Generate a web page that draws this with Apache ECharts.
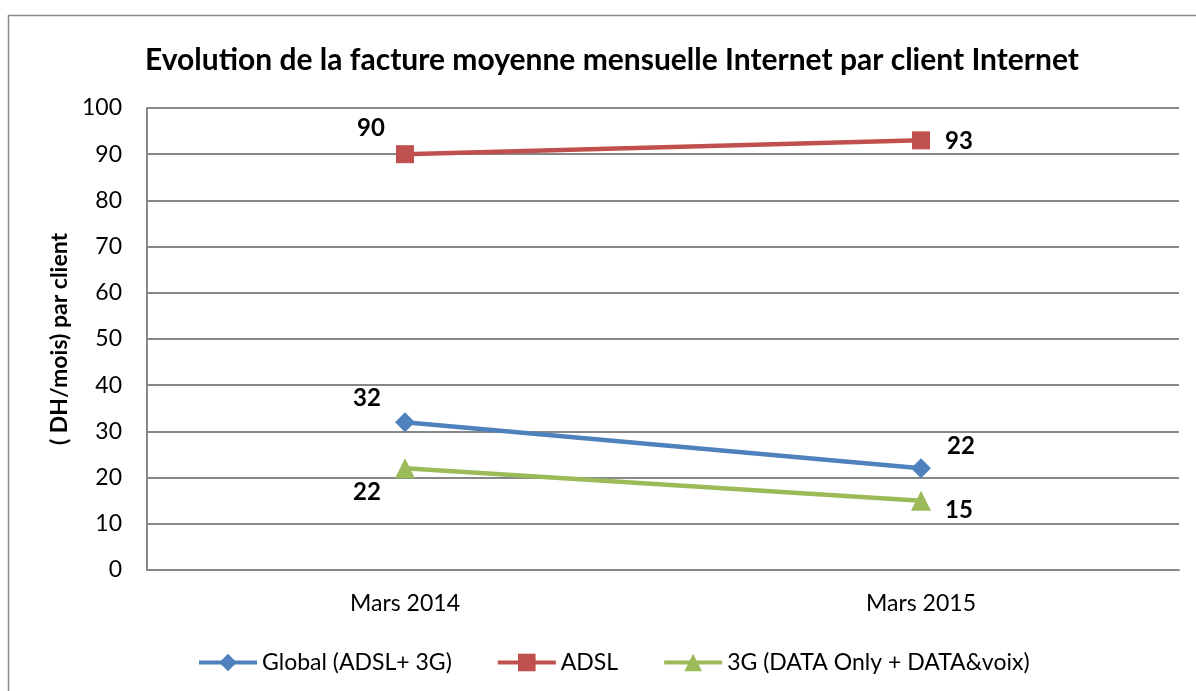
<!DOCTYPE html>
<html><head><meta charset="utf-8">
<script src="https://cdn.jsdelivr.net/npm/echarts@6/dist/echarts.min.js"></script>
<style>html,body{margin:0;padding:0;background:#fff}#c{width:1196px;height:691px}</style>
</head><body><div id="c"></div>
<script>
const categories = ['Mars 2014', 'Mars 2015'];
const globalVals = [32, 22];
const adslVals = [90, 93];
const g3Vals = [22, 15];
const yTicks = [0, 10, 20, 30, 40, 50, 60, 70, 80, 90, 100];

const FONT = 'Lato, "Open Sans", sans-serif';
const chart = echarts.init(document.getElementById('c'));
function lbl(offset){return {show:true, position:'inside', offset:offset, fontFamily:FONT, fontWeight:'bold', fontSize:24, color:'#000'};}
function mk(vals, offsets){return vals.map((v,i)=>({value:v, label:lbl(offsets[i])}));}
chart.setOption({
  animation:false,
  graphic:[{type:'rect', shape:{x:8.5,y:15.5,width:1200,height:700}, style:{fill:'none', stroke:'#8a8a8a', lineWidth:1.5}, z:-1}],
  title:{text:'Evolution de la facture moyenne mensuelle Internet par client Internet', left:607, top:40, textAlign:'center',
    textStyle:{fontFamily:FONT, fontWeight:'bold', fontSize:30, color:'#000'}},
  grid:{left:147, right:17, top:108, bottom:121, containLabel:false},
  legend:{bottom:12, left:192, itemWidth:58, itemHeight:22, itemGap:44,
    lineStyle:{width:4},
    textStyle:{fontFamily:FONT, fontSize:23, color:'#000'},
    data:['Global (ADSL+ 3G)','ADSL','3G (DATA Only + DATA&voix)']},
  xAxis:{type:'category', data:categories, boundaryGap:true,
    axisLine:{lineStyle:{color:'#878787', width:2}}, axisTick:{show:false},
    axisLabel:{fontFamily:FONT, fontSize:23, color:'#000', margin:22}},
  yAxis:{type:'value', min:yTicks[0], max:yTicks[yTicks.length-1], interval:10,
    name:'( DH/mois) par client', nameLocation:'middle', nameGap:75, nameRotate:90,
    nameTextStyle:{fontFamily:FONT, fontWeight:'bold', fontSize:23, color:'#000'},
    axisLine:{show:true, lineStyle:{color:'#878787', width:2}}, axisTick:{show:false},
    splitLine:{lineStyle:{color:'#878787', width:2}},
    axisLabel:{fontFamily:FONT, fontSize:23, color:'#000', margin:25}},
  series:[
    {name:'Global (ADSL+ 3G)', type:'line', data:mk(globalVals, [[-38,-24],[40,-22]]), symbol:'diamond', symbolSize:20,
      lineStyle:{color:'#4F81BD', width:4.5}, itemStyle:{color:'#4F81BD'}},
    {name:'ADSL', type:'line', data:mk(adslVals, [[-34,-26],[38,1]]), symbol:'rect', symbolSize:18,
      lineStyle:{color:'#C0504D', width:4.5}, itemStyle:{color:'#C0504D'}},
    {name:'3G (DATA Only + DATA&voix)', type:'line', data:mk(g3Vals, [[-38,24],[38,10]]), symbol:'triangle', symbolSize:20,
      lineStyle:{color:'#9BBB59', width:4.5}, itemStyle:{color:'#9BBB59'}}
  ]
});
</script></body></html>
